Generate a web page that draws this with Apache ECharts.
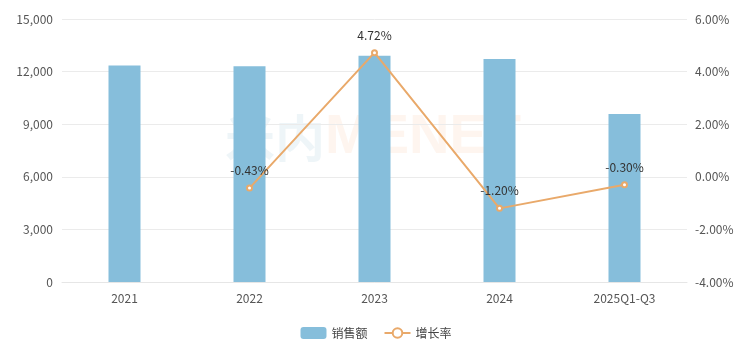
<!DOCTYPE html>
<html>
<head>
<meta charset="utf-8">
<script src="https://cdn.jsdelivr.net/npm/echarts@6/dist/echarts.min.js"></script>
<style>html,body{margin:0;padding:0;background:#fff;}#c{width:752px;height:350px;}</style>
</head>
<body>
<div id="c"></div>
<script>
const categories = ['2021', '2022', '2023', '2024', '2025Q1-Q3'];
const sales = [12350, 12300, 12900, 12720, 9580];
const growth = [null, -0.43, 4.72, -1.20, -0.30];
const leftTicks = [0, 15000, 3000];
const rightTicks = [-4, 6, 2];

const chart = echarts.init(document.getElementById('c'));
const font = '"Noto Sans CJK SC", "Noto Sans", sans-serif';
chart.setOption({
  animation: false,
  textStyle: { fontFamily: font },
  grid: { left: 62, right: 65, top: 19, bottom: 68 },
  graphic: [{
    type: 'text', left: 225, top: 110, z: 0,
    style: {
      text: '{a|米内}{b|MENET}',
      rich: {
        a: { fontSize: 50, fontWeight: 'bold', fontFamily: font, fill: 'rgba(200,222,232,0.3)' },
        b: { fontSize: 56, fontWeight: 'bold', fontFamily: '"Liberation Sans", sans-serif', fill: 'rgba(250,215,190,0.25)' }
      }
    }
  }],
  legend: {
    bottom: 6, left: 'center', itemGap: 16, itemWidth: 26, itemHeight: 12,
    textStyle: { color: '#444', fontSize: 12, fontFamily: font },
    data: [{ name: '销售额' }, { name: '增长率' }]
  },
  xAxis: {
    type: 'category', data: categories,
    axisLine: { lineStyle: { color: '#e6e6e6' } },
    axisTick: { show: false },
    axisLabel: { color: '#555', fontSize: 12, margin: 10 }
  },
  yAxis: [{
    type: 'value', min: leftTicks[0], max: leftTicks[1], interval: leftTicks[2],
    axisLabel: { color: '#555', fontSize: 12, margin: 9, formatter: v => v.toLocaleString('en-US') },
    splitLine: { lineStyle: { color: '#ebebeb' } },
    axisLine: { show: false }, axisTick: { show: false }
  }, {
    type: 'value', min: rightTicks[0], max: rightTicks[1], interval: rightTicks[2],
    axisLabel: { color: '#555', fontSize: 12, margin: 8, formatter: v => v.toFixed(2) + '%' },
    splitLine: { show: false }, axisLine: { show: false }, axisTick: { show: false }
  }],
  series: [{
    name: '销售额', type: 'bar', data: sales, barWidth: 32, z: 1,
    itemStyle: { color: '#86bedb' }
  }, {
    name: '增长率', type: 'line', yAxisIndex: 1, data: growth, z: 3,
    symbol: 'emptyCircle', symbolSize: 5,
    lineStyle: { color: '#e9a96a', width: 2 },
    itemStyle: { color: '#e9a96a', borderWidth: 1.5 },
    label: { show: true, position: 'top', distance: 8, color: '#333', fontSize: 12, formatter: p => p.value.toFixed(2) + '%' }
  }]
});
</script>
</body>
</html>
